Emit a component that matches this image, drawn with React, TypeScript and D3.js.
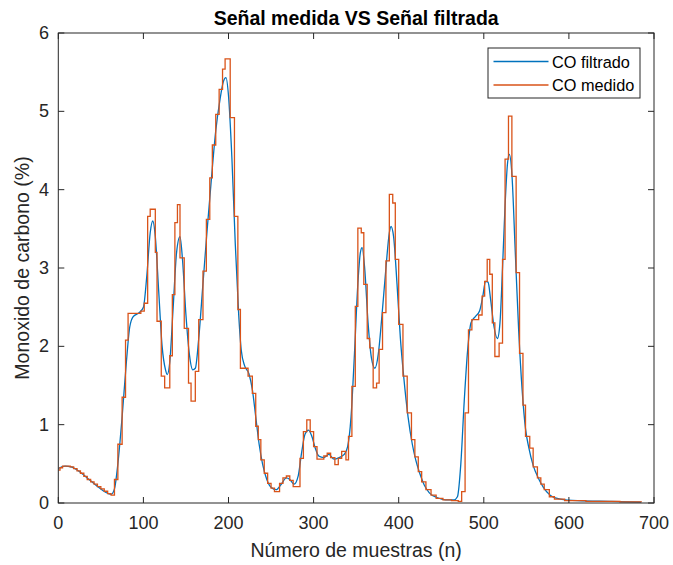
import React from 'react';
import * as d3 from 'd3';

const xTicks = [0, 100, 200, 300, 400, 500, 600, 700];
const yTicks = [0, 1, 2, 3, 4, 5, 6];

const seriesNames = ['CO filtrado', 'CO medido'];
const seriesColors = ['#0072BD', '#D95319'];

// CO medido: held (step) samples — start sample of each step and its value
const measuredN = [0, 2, 5, 14, 18, 22, 26, 30, 34, 38, 42, 46, 50, 54, 58, 62, 66, 70, 75, 79, 82, 97, 101, 105, 108, 114, 116, 121, 125, 131, 134, 137, 140, 143, 148, 153, 156, 161, 165, 170, 174, 178, 181, 185, 189, 193, 196, 202, 207, 211, 214, 223, 228, 232, 235, 238, 242, 246, 250, 254, 260, 264, 268, 272, 276, 284, 288, 292, 296, 300, 304, 312, 316, 320, 325, 329, 333, 338, 341, 345, 349, 352, 356, 359, 363, 366, 370, 374, 377, 381, 385, 389, 393, 396, 400, 405, 410, 415, 419, 423, 427, 432, 438, 444, 452, 462, 470, 474, 478, 482, 486, 494, 498, 501, 504, 507, 510, 513, 518, 522, 525, 529, 533, 538, 542, 546, 549, 554, 558, 563, 567, 571, 577, 583, 595, 620, 660, 685];
const measuredV = [0.42, 0.45, 0.47, 0.46, 0.44, 0.41, 0.38, 0.34, 0.30, 0.27, 0.24, 0.21, 0.18, 0.15, 0.12, 0.10, 0.30, 0.75, 1.35, 2.08, 2.42, 2.45, 2.55, 3.66, 3.75, 3.2, 2.32, 1.62, 1.47, 1.88, 2.66, 3.58, 3.81, 3.13, 2.23, 1.53, 1.30, 1.68, 2.34, 2.96, 3.62, 4.15, 4.57, 4.96, 5.28, 5.54, 5.67, 4.92, 3.66, 2.47, 1.72, 1.62, 1.40, 0.98, 0.81, 0.55, 0.38, 0.25, 0.19, 0.145, 0.25, 0.32, 0.345, 0.29, 0.21, 0.57, 0.91, 1.06, 0.91, 0.72, 0.56, 0.60, 0.635, 0.58, 0.49, 0.57, 0.66, 0.55, 0.85, 1.49, 2.51, 3.51, 3.45, 2.79, 2.1, 1.98, 1.47, 1.53, 1.96, 2.43, 3.09, 3.94, 3.83, 3.11, 2.28, 1.62, 1.15, 0.81, 0.59, 0.40, 0.27, 0.17, 0.10, 0.06, 0.04, 0.03, 0.02, 0.145, 1.15, 2.21, 2.34, 2.40, 2.64, 2.83, 3.11, 2.92, 2.30, 1.87, 2.04, 3.11, 4.39, 4.94, 4.17, 2.94, 1.91, 1.25, 0.85, 0.70, 0.46, 0.32, 0.24, 0.17, 0.08, 0.05, 0.03, 0.02, 0.015, 0.01];

// CO filtrado: smooth filtered signal read at selected samples
const filteredN = [0, 8, 15, 25, 35, 45, 55, 62, 66, 70, 75, 80, 84, 88, 95, 100, 104, 108, 111, 114, 118, 122, 126, 128, 131, 135, 139, 143, 146, 150, 154, 158, 161, 165, 170, 175, 180, 185, 190, 194, 197, 200, 204, 208, 212, 215, 219, 224, 228, 232, 236, 240, 245, 250, 256, 262, 268, 272, 277, 282, 286, 290, 294, 298, 302, 306, 312, 318, 324, 330, 336, 340, 344, 348, 352, 355, 357, 360, 364, 368, 372, 376, 380, 385, 389, 391, 394, 398, 402, 406, 411, 416, 420, 425, 430, 436, 445, 455, 465, 469, 473, 477, 481, 485, 490, 495, 499, 502, 505, 508, 512, 516, 519, 522, 525, 528, 530, 533, 537, 541, 545, 549, 553, 558, 564, 570, 578, 590, 610, 650, 685];
const filteredV = [0.44, 0.47, 0.46, 0.40, 0.31, 0.22, 0.14, 0.11, 0.18, 0.5, 1.1, 1.8, 2.25, 2.38, 2.43, 2.5, 2.9, 3.45, 3.6, 3.4, 2.7, 2.0, 1.7, 1.64, 1.8, 2.5, 3.2, 3.4, 3.1, 2.4, 1.9, 1.7, 1.72, 2.1, 2.8, 3.5, 4.15, 4.75, 5.15, 5.38, 5.43, 5.2, 4.4, 3.3, 2.4, 1.95, 1.75, 1.65, 1.45, 1.1, 0.75, 0.5, 0.3, 0.2, 0.17, 0.24, 0.32, 0.3, 0.24, 0.35, 0.65, 0.88, 0.93, 0.85, 0.7, 0.6, 0.58, 0.62, 0.56, 0.58, 0.62, 0.72, 1.1, 1.9, 2.8, 3.2, 3.26, 3.0, 2.3, 1.85, 1.72, 1.9, 2.35, 3.0, 3.45, 3.53, 3.4, 2.8, 2.1, 1.6, 1.1, 0.75, 0.55, 0.37, 0.23, 0.13, 0.07, 0.04, 0.04, 0.08, 0.5, 1.3, 1.95, 2.3, 2.38, 2.45, 2.65, 2.83, 2.82, 2.6, 2.25, 2.1, 2.3, 3.0, 3.8, 4.35, 4.45, 4.2, 3.2, 2.2, 1.45, 0.95, 0.7, 0.48, 0.32, 0.2, 0.1, 0.05, 0.03, 0.02, 0.01];

const titleText = 'Señal medida VS Señal filtrada';
const xLabelText = 'Número de muestras (n)';
const yLabelText = 'Monoxido de carbono (%)';

export default function App() {
  const W = 673, H = 565;
  const left = 58.3, right = 654, top = 33, bottom = 503;
  const x = d3.scaleLinear().domain([0, 700]).range([left, right]);
  const y = d3.scaleLinear().domain([0, 6]).range([bottom, top]);
  const axisColor = '#262626';
  const font = "'Liberation Sans', Arial, Helvetica, sans-serif";

  const meas: [number, number][] = measuredN.map((n, i) => [n, measuredV[i]]);
  const filt: [number, number][] = filteredN.map((n, i) => [n, filteredV[i]]);

  const stepLine = d3.line<[number, number]>().x(d => x(d[0])).y(d => y(d[1])).curve(d3.curveStepAfter);
  const smoothLine = d3.line<[number, number]>().x(d => x(d[0])).y(d => y(d[1])).curve(d3.curveMonotoneX);

  const tickLen = 6;
  const legX = 488, legY = 48, legW = 152, legH = 50;

  return (
    <svg width={W} height={H} style={{ position: 'absolute', left: 0, top: 0, background: '#fff' }} fontFamily={font}>
      <rect x={0} y={0} width={W} height={H} fill="#fff" />
      <defs>
        <clipPath id="plotClip">
          <rect x={left} y={top} width={right - left} height={bottom - top} />
        </clipPath>
      </defs>
      <g clipPath="url(#plotClip)">
        <path d={smoothLine(filt) || ''} fill="none" stroke={seriesColors[0]} strokeWidth={1.3} />
        <path d={stepLine(meas) || ''} fill="none" stroke={seriesColors[1]} strokeWidth={1.3} />
      </g>
      {/* axes box */}
      <rect x={left} y={top} width={right - left} height={bottom - top} fill="none" stroke={axisColor} strokeWidth={1} />
      {xTicks.map(t => (
        <g key={'xt' + t}>
          <line x1={x(t)} x2={x(t)} y1={bottom} y2={bottom - tickLen} stroke={axisColor} />
          <line x1={x(t)} x2={x(t)} y1={top} y2={top + tickLen} stroke={axisColor} />
          <text x={x(t)} y={523} textAnchor="middle" dominantBaseline="central" fontSize={18} fill={axisColor}>{t}</text>
        </g>
      ))}
      {yTicks.map(t => (
        <g key={'yt' + t}>
          <line x1={left} x2={left + tickLen} y1={y(t)} y2={y(t)} stroke={axisColor} />
          <line x1={right} x2={right - tickLen} y1={y(t)} y2={y(t)} stroke={axisColor} />
          <text x={49} y={y(t)} textAnchor="end" dominantBaseline="central" fontSize={18} fill={axisColor}>{t}</text>
        </g>
      ))}
      <text x={(left + right) / 2} y={18} textAnchor="middle" dominantBaseline="central" fontSize={19.5} fontWeight="bold" fill="#000">{titleText}</text>
      <text x={(left + right) / 2} y={550} textAnchor="middle" dominantBaseline="central" fontSize={19.5} fill={axisColor}>{xLabelText}</text>
      <text transform={`translate(22,${(top + bottom) / 2}) rotate(-90)`} textAnchor="middle" dominantBaseline="central" fontSize={19.5} fill={axisColor}>{yLabelText}</text>
      {/* legend */}
      <rect x={legX} y={legY} width={legW} height={legH} fill="#fff" stroke={axisColor} strokeWidth={1} />
      {seriesNames.map((name, i) => (
        <g key={name}>
          <line x1={legX + 5.5} x2={legX + 60.5} y1={legY + 13.5 + i * 23.5} y2={legY + 13.5 + i * 23.5} stroke={seriesColors[i]} strokeWidth={1.3} />
          <text x={legX + 64} y={legY + 13.5 + i * 23.5} dominantBaseline="central" fontSize={16.3} fill="#000">{name}</text>
        </g>
      ))}
    </svg>
  );
}
